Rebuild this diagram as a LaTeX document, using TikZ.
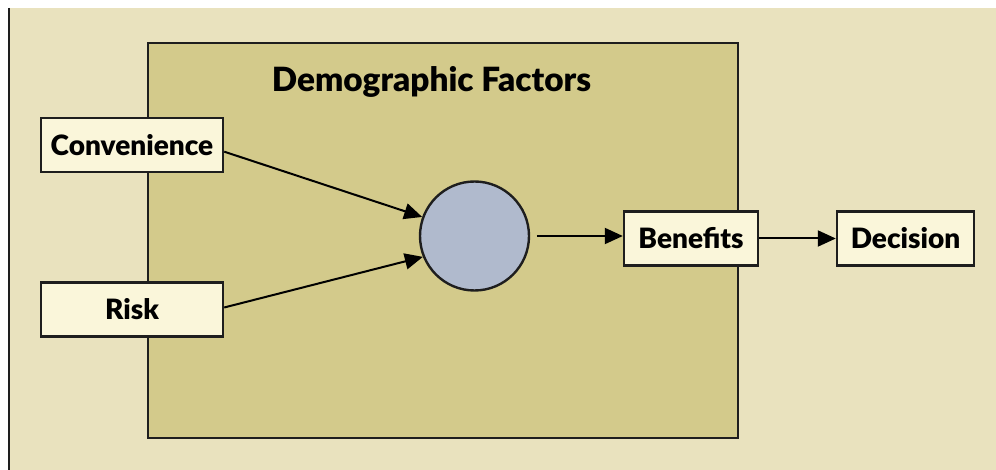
\documentclass[tikz,border=0pt]{standalone}
\usepackage{fontspec}
\setmainfont{Lato}[BoldFont={Lato Black}]
\usepackage{xcolor}
\usetikzlibrary{arrows.meta}

\definecolor{paper}{RGB}{233,226,190}
\definecolor{panelfill}{RGB}{211,202,139}
\definecolor{cardfill}{RGB}{250,246,218}
\definecolor{hubfill}{RGB}{176,186,205}
\definecolor{ink}{RGB}{30,30,30}

\tikzset{
	card/.style = {draw=ink, fill=cardfill, line width=1.8pt, minimum height=40.5pt, inner sep=0pt, font=\fontsize{21}{24}\selectfont\bfseries},
	flow/.style = {line width=1.5pt, -{Triangle[length=13.5pt,width=12pt]}}
}

\begin{document}
\begin{tikzpicture}[x=0.75pt, y=-0.75pt]
		\useasboundingbox (0,0) rectangle (996,470);
		\fill[white] (0,0) rectangle (996,470);
		\fill[paper] (8,8) rectangle (996,470);
		\draw[ink, line width=1.5pt] (8.5,8) -- (8.5,470);
		% demographic panel
		\draw[ink, fill=panelfill, line width=1.8pt] (148,43) rectangle (738,438);
		\node[anchor=base, font=\fontsize{25}{28}\selectfont\bfseries] (title) at (431.5,92) {Demographic Factors};
		\node[card, minimum width=136.5pt] (conv) at (132,145) {Convenience};
		\node[card, minimum width=136.5pt] (risk) at (132,309.5) {Risk};
		\node[circle, draw=ink, fill=hubfill, line width=1.8pt, minimum size=81.75pt, inner sep=0pt] (hub) at (474.5,236) {};
		\node[card, minimum width=100.5pt] (ben) at (691,238.5) {Benefits};
		\node[card, minimum width=102.75pt] (dec) at (905.5,238.5) {Decision};
		\draw[flow] ([yshift=-5pt]conv.east) -- (hub.160);
		\draw[flow] ([yshift=1.5pt]risk.east) -- (hub.202);
		\draw[flow, shorten <=5pt] (hub.east) -- (hub.east -| ben.west);
		\draw[flow] (ben) -- (dec);
	\end{tikzpicture}
\end{document}
